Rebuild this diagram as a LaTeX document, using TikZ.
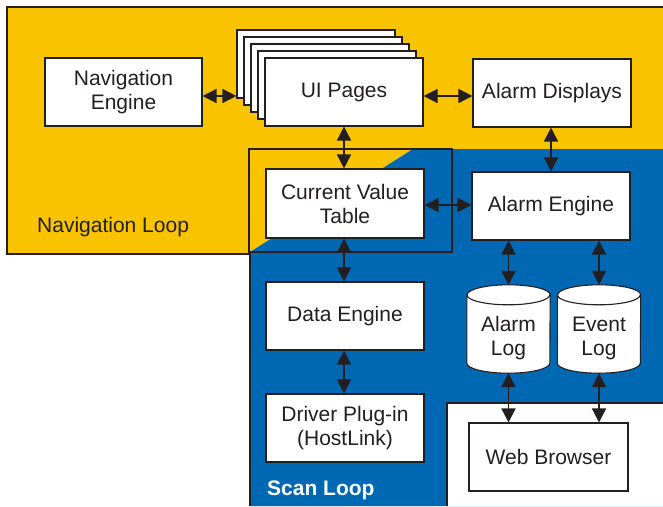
\documentclass[tikz,border=0pt]{standalone}
\usepackage{fontspec}
\setmainfont{Liberation Sans}
\usetikzlibrary{arrows.meta,calc}
\definecolor{navyellow}{RGB}{249,195,0}
\definecolor{scanblue}{RGB}{0,104,179}
\definecolor{ink}{RGB}{35,31,32}

\begin{document}
\begin{tikzpicture}[x=1pt,y=-1pt,
  box/.style={draw=ink, fill=white, line width=1.1pt, minimum width=158pt,
    minimum height=68pt, align=center, inner sep=0pt,
    font=\fontsize{21}{24}\selectfont, text=ink},
  page/.style={box},
  drum/.style={minimum width=83pt, minimum height=88pt, inner sep=0pt},
  drumtext/.style={align=center, font=\fontsize{21}{24}\selectfont, text=ink},
  outline/.style={draw=ink, line width=1.1pt},
  link/.style={draw=ink, line width=1.5pt,
    {Triangle[length=14pt,width=14pt]}-{Triangle[length=14pt,width=14pt]}},
  looplabel/.style={font=\fontsize{21}{24}\selectfont, inner sep=0pt}]

\useasboundingbox (0,0) rectangle (663,506);

% loop regions
\fill[navyellow] (7,7) -- (663,7) -- (663,149) -- (413,149) -- (250,252)
  -- (250,254) -- (7,254) -- cycle;
\fill[scanblue] (413,149) -- (663,149) -- (663,506) -- (250,506) -- (250,252) -- cycle;
\fill[white] (447,403) rectangle (663,506);
\draw[outline] (663,7) -- (7,7) -- (7,254) -- (250,254) -- (250,506);
\draw[outline] (663,403) -- (447,403) -- (447,506);
\draw[outline] (249,149) rectangle (452,252);

\node[looplabel, anchor=base west, text=ink] (navloop) at (37,232) {Navigation Loop};
\node[looplabel, anchor=base west, text=white, font=\fontsize{21}{24}\selectfont\bfseries]
  (scanloop) at (267,495) {Scan Loop};

% boxes
\node[box, minimum width=157pt] (nav) at (123.5,92) {Navigation\\Engine};
\node[page] (pgA) at (316,64) {};
\node[page] (pgB) at (323,71) {};
\node[page] (pgC) at (330,78) {};
\node[page] (pgD) at (337,85) {};
\node[page] (ui)  at (344,92) {UI Pages};
\node[box] (ad)  at (552,93) {Alarm Displays};
\node[box, minimum height=69pt] (cvt) at (345,203.5) {Current Value\\Table};
\node[box] (ae)  at (551,206) {Alarm Engine};
\node[box] (de)  at (345,316) {Data Engine};
\node[box] (drv) at (345,428) {Driver Plug-in\\(HostLink)};
\node[box, minimum width=159pt] (web) at (548.5,457) {Web Browser};

% log drums
\node[drum] (alog) at (508.5,329) {};
\node[drum] (elog) at (599,329) {};
\foreach \d in {alog,elog}{
  \path[outline, fill=white] ($(\d.north west)+(0,10)$) -- ($(\d.south west)+(0,-10)$)
    arc[start angle=180, end angle=360, x radius=41.5pt, y radius=10pt]
    -- ($(\d.north east)+(0,10)$)
    arc[start angle=0, end angle=180, x radius=41.5pt, y radius=10pt] -- cycle;
  \draw[outline] ($(\d.north west)+(0,10)$)
    arc[start angle=180, end angle=360, x radius=41.5pt, y radius=10pt];
}
\node[drumtext] (alogtext) at ($(alog.center)+(0,9)$) {Alarm\\Log};
\node[drumtext] (elogtext) at ($(elog.center)+(0,9)$) {Event\\Log};

% connectors
\draw[link] ($(nav.east)+(0,4)$) -- ($(nav.east -| pgA.west)+(0,4)$);
\draw[link] ($(ui.east)+(0,4)$) -- ($(ui.east -| ad.west)+(0,4)$);
\draw[link] (ui.south) -- (ui.south |- cvt.north);
\draw[link] ($(cvt.east)+(0,1.5)$) -- ($(cvt.east -| ae.west)+(0,1.5)$);
\draw[link] (ae.north) -- (ae.north |- ad.south);
\draw[link] (ui.south |- cvt.south) -- (ui.south |- de.north);
\draw[link] (ui.south |- de.south) -- (ui.south |- drv.north);
\draw[link] (alog.center |- ae.south) -- (alog.north);
\draw[link] (elog.center |- ae.south) -- (elog.north);
\draw[link] (alog.south) -- (alog.south |- web.north);
\draw[link] (elog.south) -- (elog.south |- web.north);
\end{tikzpicture}
\end{document}
